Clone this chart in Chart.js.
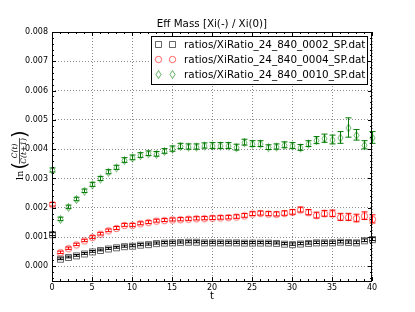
<!DOCTYPE html>
<html>
<head>
<meta charset="utf-8">
<script src="https://cdn.jsdelivr.net/npm/chart.js@4/dist/chart.umd.min.js"></script>
<style>
  body { margin: 0; background: #fff; }
  #effMass { display: block; }
</style>
</head>
<body>
<canvas id="effMass" width="415" height="312"></canvas>
<script>

// data (values in units of 1e-3)
var tValues = [0,1,2,3,4,5,6,7,8,9,10,11,12,13,14,15,16,17,18,19,20,21,22,23,24,25,26,27,28,29,30,31,32,33,34,35,36,37,38,39,40];

var seriesLabels = ['ratios/XiRatio_24_840_0002_SP.dat', 'ratios/XiRatio_24_840_0004_SP.dat', 'ratios/XiRatio_24_840_0010_SP.dat'];

var mass0002 = [1.10,0.26,0.32,0.375,0.44,0.51,0.56,0.61,0.65,0.69,0.705,0.74,0.76,0.795,0.81,0.82,0.83,0.84,0.84,0.82,0.82,0.82,0.82,0.82,0.81,0.81,0.81,0.81,0.80,0.775,0.76,0.78,0.80,0.82,0.82,0.82,0.84,0.83,0.82,0.89,0.93];
var err0002  = [0.05,0.03,0.03,0.03,0.03,0.03,0.03,0.03,0.03,0.035,0.035,0.035,0.035,0.035,0.035,0.035,0.035,0.035,0.035,0.035,0.035,0.035,0.035,0.035,0.035,0.035,0.035,0.035,0.035,0.035,0.04,0.04,0.04,0.04,0.04,0.04,0.04,0.04,0.045,0.045,0.05];

var mass0004 = [2.12,0.48,0.62,0.75,0.885,1.0,1.115,1.23,1.31,1.415,1.415,1.47,1.51,1.56,1.58,1.60,1.61,1.625,1.64,1.645,1.66,1.67,1.68,1.70,1.74,1.80,1.82,1.80,1.79,1.82,1.86,1.94,1.85,1.75,1.81,1.81,1.69,1.69,1.65,1.73,1.62];
var err0004  = [0.06,0.04,0.04,0.04,0.04,0.045,0.045,0.045,0.05,0.05,0.05,0.05,0.05,0.05,0.05,0.05,0.055,0.055,0.055,0.055,0.06,0.06,0.06,0.06,0.065,0.065,0.07,0.07,0.07,0.075,0.08,0.085,0.09,0.1,0.1,0.11,0.12,0.12,0.13,0.13,0.14];

var mass0010 = [3.29,1.62,2.03,2.30,2.58,2.80,3.00,3.23,3.38,3.63,3.72,3.80,3.86,3.84,3.94,4.02,4.11,4.09,4.09,4.125,4.125,4.125,4.125,4.07,4.24,4.19,4.19,4.07,4.09,4.15,4.125,4.06,4.19,4.31,4.375,4.33,4.40,4.74,4.49,4.15,4.40];
var err0010  = [0.07,0.06,0.06,0.06,0.06,0.07,0.07,0.07,0.07,0.08,0.08,0.08,0.08,0.08,0.08,0.09,0.09,0.09,0.09,0.09,0.1,0.1,0.1,0.1,0.1,0.1,0.1,0.08,0.09,0.1,0.1,0.1,0.1,0.12,0.14,0.15,0.2,0.33,0.18,0.14,0.2];

var xTicks = [0,5,10,15,20,25,30,35,40];
var yTicks = [0,0.001,0.002,0.003,0.004,0.005,0.006,0.007,0.008];

var FONT = 'DejaVu Sans';

function makeMarker(shape, color) {
    var c = document.createElement('canvas');
    c.width = 12; c.height = 12;
    var g = c.getContext('2d');
    g.strokeStyle = color;
    g.lineWidth = 1;
    g.beginPath();
    if (shape === 'square') {
        g.rect(3.5, 3.5, 6, 6);
    } else if (shape === 'circle') {
        g.arc(6.5, 6.5, 3.2, 0, Math.PI * 2);
    } else {
        g.moveTo(6.5, 2.5); g.lineTo(9, 6.5); g.lineTo(6.5, 10.5); g.lineTo(4, 6.5); g.closePath();
    }
    g.stroke();
    return c;
}

function toPoints(vals) {
    return vals.map(function(v, i) { return { x: tValues[i], y: v / 1000 }; });
}

var markers = [
    makeMarker('square', 'rgba(0,0,0,0.6)'),
    makeMarker('circle', 'rgba(255,0,0,0.6)'),
    makeMarker('diamond', 'rgba(0,128,0,0.6)')
];

var datasets = [
    { label: seriesLabels[0], data: toPoints(mass0002), errors: err0002, barColor: '#000000', pointStyle: markers[0] },
    { label: seriesLabels[1], data: toPoints(mass0004), errors: err0004, barColor: '#ff0000', pointStyle: markers[1] },
    { label: seriesLabels[2], data: toPoints(mass0010), errors: err0010, barColor: '#007a00', pointStyle: markers[2] }
];
datasets.forEach(function(d) { d.showLine = false; d.pointRadius = 4; d.clip = false; });

var extras = {
    id: 'extras',
    afterDatasetsDraw: function(chart) {
        var ctx = chart.ctx;
        var xs = chart.scales.x, ys = chart.scales.y;

        // error bars
        ctx.save();
        chart.data.datasets.forEach(function(ds) {
            ctx.strokeStyle = ds.barColor;
            ctx.lineWidth = 1;
            ds.data.forEach(function(p, j) {
                var e = ds.errors[j] / 1000;
                var x = Math.round(xs.getPixelForValue(p.x)) + 0.5;
                var y1 = ys.getPixelForValue(p.y + e), y2 = ys.getPixelForValue(p.y - e);
                ctx.beginPath();
                ctx.moveTo(x, y1); ctx.lineTo(x, y2);
                ctx.moveTo(x - 3, y1); ctx.lineTo(x + 3, y1);
                ctx.moveTo(x - 3, y2); ctx.lineTo(x + 3, y2);
                ctx.stroke();
            });
        });
        ctx.restore();
    },
    afterDraw: function(chart) {
        var ctx = chart.ctx, a = chart.chartArea;
        var xs = chart.scales.x, ys = chart.scales.y;
        ctx.save();
        ctx.strokeStyle = '#000';
        ctx.lineWidth = 1;

        // inward ticks on all four sides
        ctx.beginPath();
        for (var t = 0; t <= 40; t++) {
            var px = Math.round(xs.getPixelForValue(t)) + 0.5;
            var len = (t % 5 === 0) ? 4 : 2;
            ctx.moveTo(px, a.bottom); ctx.lineTo(px, a.bottom - len);
            ctx.moveTo(px, a.top); ctx.lineTo(px, a.top + len);
        }
        for (var k = -2; k <= 40; k++) {
            var py = Math.round(ys.getPixelForValue(k * 0.0002)) + 0.5;
            var len2 = (k % 5 === 0) ? 4 : 2;
            ctx.moveTo(a.left, py); ctx.lineTo(a.left + len2, py);
            ctx.moveTo(a.right, py); ctx.lineTo(a.right - len2, py);
        }
        ctx.stroke();

        // frame
        ctx.strokeRect(a.left + 0.5, a.top + 0.5, a.right - a.left - 1, a.bottom - a.top);

        // title and x label
        ctx.fillStyle = '#000';
        ctx.textAlign = 'center';
        ctx.textBaseline = 'alphabetic';
        ctx.font = '10.3px "' + FONT + '"';
        ctx.fillText('Eff Mass [Xi(-) / Xi(0)]', (a.left + a.right) / 2, 27);
        ctx.font = '10px "' + FONT + '"';
        ctx.fillText('t', (a.left + a.right) / 2, 299);

        // y label: ln( C(t) / C(t+1) ), rotated
        ctx.save();
        ctx.translate(18, (a.top + a.bottom) / 2);
        ctx.rotate(-Math.PI / 2);
        ctx.textBaseline = 'alphabetic';
        ctx.font = 'italic 7.5px "DejaVu Serif"';
        var num = 'C(t)', den = 'C(t+1)';
        var fw = Math.max(ctx.measureText(num).width, ctx.measureText(den).width);
        ctx.font = '9.5px "DejaVu Serif"';
        var lnW = ctx.measureText('ln').width;
        var total = lnW + 2 + 5 + fw + 5;
        var x0 = -total / 2;
        ctx.textAlign = 'left';
        ctx.fillText('ln', x0, 5);
        ctx.font = '20px "DejaVu Sans"';
        ctx.fillText('(', x0 + lnW + 1, 8);
        ctx.fillText(')', x0 + lnW + 7 + fw, 8);
        ctx.font = 'italic 7.5px "DejaVu Serif"';
        ctx.textAlign = 'center';
        var fc = x0 + lnW + 7 + fw / 2;
        ctx.fillText(num, fc, -1);
        ctx.fillText(den, fc, 8);
        ctx.beginPath();
        ctx.moveTo(fc - fw / 2, 1.5); ctx.lineTo(fc + fw / 2, 1.5);
        ctx.lineWidth = 0.7;
        ctx.stroke();
        ctx.restore();

        // legend
        var lx = 151.5, ly = 36.5, lw = 216, lh = 48;
        ctx.fillStyle = '#fff';
        ctx.fillRect(lx, ly, lw, lh);
        ctx.strokeStyle = '#000';
        ctx.lineWidth = 1;
        ctx.strokeRect(lx, ly, lw, lh);
        ctx.font = '10.4px "' + FONT + '"';
        ctx.textAlign = 'left';
        ctx.fillStyle = '#000';
        chart.data.datasets.forEach(function(ds, i) {
            var ry = 44 + i * 15;
            ctx.drawImage(ds.pointStyle, 152, ry - 6);
            ctx.drawImage(ds.pointStyle, 166, ry - 6);
            ctx.fillText(ds.label, 184, ry + 4);
        });
        ctx.restore();
    }
};

var ctx = document.getElementById('effMass').getContext('2d');
new Chart(ctx, {
    type: 'scatter',
    data: { datasets: datasets },
    options: {
        responsive: false,
        animation: false,
        devicePixelRatio: 1,
        layout: { padding: { top: 32, right: 43, left: 0, bottom: 0 } },
        plugins: { legend: { display: false }, tooltip: { enabled: false } },
        scales: {
            x: {
                type: 'linear', bounds: 'data', suggestedMin: 0, suggestedMax: 40,
                afterBuildTicks: function(s) { s.ticks = xTicks.map(function(v) { return { value: v }; }); },
                afterFit: function(s) { s.height = 31; },
                ticks: { color: '#000', font: { family: FONT, size: 8 }, padding: 2, maxRotation: 0 },
                grid: { color: '#8a8a8a', lineWidth: 1, drawTicks: false },
                border: { display: false, dash: [1, 2] }
            },
            y: {
                type: 'linear', min: -0.0005, max: 0.008,
                afterBuildTicks: function(s) { s.ticks = yTicks.map(function(v) { return { value: v }; }); },
                afterFit: function(s) { s.width = 52; },
                ticks: { color: '#000', font: { family: FONT, size: 8 }, padding: 4,
                         callback: function(v) { return v.toFixed(3); } },
                grid: { color: '#8a8a8a', lineWidth: 1, drawTicks: false },
                border: { display: false, dash: [1, 2] }
            }
        }
    },
    plugins: [extras]
});
</script>
</body>
</html>
